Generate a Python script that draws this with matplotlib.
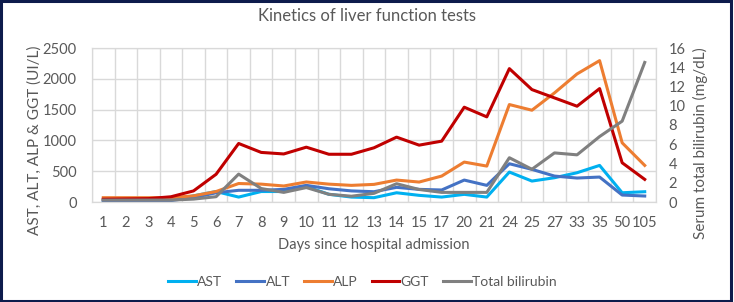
import matplotlib
matplotlib.use('Agg')
import matplotlib.pyplot as plt
from matplotlib.patches import Rectangle
import numpy as np

plt.rcParams['font.family'] = ['Lato', 'DejaVu Sans']

# ---- data ----
days = ['1', '2', '3', '4', '5', '6', '7', '8', '9', '10', '11', '12', '13', '14', '15',
        '17', '20', '21', '24', '25', '27', '33', '35', '50', '105']

ast = [30, 30, 30, 30, 100, 170, 80, 170, 170, 250, 125, 80, 70, 150, 108,
       80, 124, 80, 486, 340, 394, 475, 594, 150, 167]
alt = [20, 20, 25, 25, 70, 150, 190, 190, 205, 270, 215, 180, 167, 238, 205,
       195, 356, 270, 621, 530, 421, 389, 405, 113, 97]
alp = [70, 70, 70, 70, 100, 170, 300, 290, 260, 325, 290, 270, 286, 356, 324,
       421, 648, 583, 1582, 1490, 1771, 2079, 2295, 961, 594]
ggt = [45, 50, 55, 85, 180, 450, 950, 805, 780, 890, 775, 775, 880, 1053, 923,
       988, 1539, 1382, 2165, 1825, 1690, 1555, 1841, 637, 367]
bili = [0.2, 0.2, 0.2, 0.2, 0.3, 0.55, 2.9, 1.4, 1.0, 1.5, 0.8, 0.6, 0.9, 1.9, 1.3,
        1.0, 1.0, 1.0, 4.6, 3.4, 5.1, 4.9, 6.8, 8.4, 14.5]

text_col = '#595959'
grid_col = '#D9D9D9'
fs = 10.5

fig = plt.figure(figsize=(7.34, 3.02), dpi=100)
ax = fig.add_axes([92 / 734, 1 - 202 / 302, (656 - 92) / 734, (202 - 48) / 302])
ax2 = ax.twinx()

x = np.arange(len(days))
lw = 2.2
l1, = ax.plot(x, ast, color='#00B0F0', lw=lw, label='AST')
l2, = ax.plot(x, alt, color='#4472C4', lw=lw, label='ALT')
l3, = ax.plot(x, alp, color='#ED7D31', lw=lw, label='ALP')
l4, = ax.plot(x, ggt, color='#C00000', lw=lw, label='GGT')
l5, = ax2.plot(x, bili, color='#808080', lw=lw, label='Total bilirubin')

ax.set_xlim(-0.5, len(days) - 0.5)
ax.set_ylim(0, 2500)
ax.set_yticks(range(0, 2501, 500))
ax2.set_ylim(0, 16)
ax2.set_yticks(range(0, 17, 2))

ax.set_xticks(x)
ax.set_xticklabels(days)
# vertical gridlines sit between categories, like Excel
ax.set_xticks(np.arange(-0.5, len(days), 1), minor=True)
ax.grid(True, which='minor', axis='x', color=grid_col, lw=1)
ax.grid(True, which='major', axis='y', color=grid_col, lw=1)
ax.set_axisbelow(True)

ax.tick_params(axis='y', length=0, labelsize=fs, colors=text_col, pad=11)
ax.tick_params(axis='x', length=0, labelsize=fs, colors=text_col, pad=10)
ax.tick_params(which='minor', length=0)
ax2.tick_params(axis='y', length=0, labelsize=fs, colors=text_col, pad=9)
for a in (ax, ax2):
    for s in a.spines.values():
        s.set_color(grid_col)

ax.set_xlabel('Days since hospital admission', fontsize=fs, color=text_col, labelpad=6)
ax.set_ylabel('AST, ALT, ALP & GGT (UI/L)', fontsize=fs + 0.5, color=text_col)
ax2.set_ylabel('Serum total bilirubin (mg/dL)', fontsize=fs + 0.5, color=text_col)
ax.yaxis.set_label_coords(-0.09, 0.40)
ax2.yaxis.set_label_coords(1.066, 0.38)

fig.suptitle('Kinetics of liver function tests', x=0.5, y=0.975, fontsize=12, color=text_col)

fig.legend(handles=[l1, l2, l3, l4, l5], loc='center', bbox_to_anchor=(0.494, 1 - 282 / 302),
           ncol=5, frameon=False, fontsize=10, handlelength=2.0, handletextpad=0.1,
           columnspacing=1.0, labelcolor=text_col)

# dark navy frame around the whole picture
fig.patches.append(Rectangle((0.002, 0.004), 0.994, 0.992, transform=fig.transFigure,
                             fill=False, edgecolor='#0D1B4C', lw=2.2))

fig.savefig('out.png', dpi=100)
